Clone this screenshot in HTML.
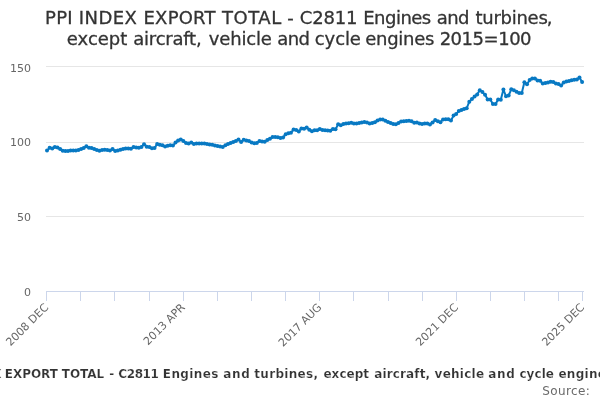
<!DOCTYPE html>
<html><head><meta charset="utf-8"><title>PPI INDEX EXPORT TOTAL</title>
<style>
html,body{margin:0;padding:0;background:#fff;}
body{width:600px;height:400px;overflow:hidden;}
svg{display:block;font-family:"DejaVu Sans","Liberation Sans",sans-serif;}
</style></head><body>
<div id="wrap" style="will-change:transform;width:600px;height:400px;background:#fff"><svg width="600" height="400" viewBox="0 0 600 400">
<rect x="0" y="0" width="600" height="400" fill="#ffffff"/>
<g stroke="#e6e6e6" stroke-width="1" fill="none"><path d="M 46 66.5 L 584 66.5"/><path d="M 46 142.5 L 584 142.5"/><path d="M 46 216.5 L 584 216.5"/><path d="M 46 291.5 L 584 291.5"/></g>
<g stroke="#ccd6eb" stroke-width="1" fill="none"><path d="M 46.5 291 L 46.5 301"/><path d="M 80.5 291 L 80.5 301"/><path d="M 114.5 291 L 114.5 301"/><path d="M 149.5 291 L 149.5 301"/><path d="M 183.5 291 L 183.5 301"/><path d="M 217.5 291 L 217.5 301"/><path d="M 251.5 291 L 251.5 301"/><path d="M 285.5 291 L 285.5 301"/><path d="M 319.5 291 L 319.5 301"/><path d="M 353.5 291 L 353.5 301"/><path d="M 388.5 291 L 388.5 301"/><path d="M 422.5 291 L 422.5 301"/><path d="M 456.5 291 L 456.5 301"/><path d="M 490.5 291 L 490.5 301"/><path d="M 524.5 291 L 524.5 301"/><path d="M 558.5 291 L 558.5 301"/><path d="M 582.5 291 L 582.5 301"/><path d="M 46 291.5 L 584 291.5"/></g>
<g fill="none" stroke="#0879c3" stroke-width="2" stroke-linejoin="round" stroke-linecap="round"><path d="M 47.00 150.60 L 49.62 147.85 L 52.25 148.40 L 54.87 146.90 L 57.49 147.60 L 60.12 149.10 L 62.74 150.85 L 65.36 151.00 L 67.98 151.00 L 70.61 150.40 L 73.23 150.60 L 75.85 150.50 L 78.48 149.90 L 81.10 149.10 L 83.72 148.00 L 86.35 146.35 L 88.97 147.85 L 91.59 148.00 L 94.21 149.10 L 96.84 150.10 L 99.46 150.85 L 102.08 149.90 L 104.71 149.65 L 107.33 150.10 L 109.95 150.40 L 112.58 149.10 L 115.20 151.10 L 117.82 150.40 L 120.45 149.65 L 123.07 149.10 L 125.69 148.60 L 128.31 148.40 L 130.94 148.75 L 133.56 147.10 L 136.18 147.40 L 138.81 147.85 L 141.43 147.10 L 144.05 144.25 L 146.68 146.65 L 149.30 147.10 L 151.92 148.15 L 154.54 148.00 L 157.17 144.10 L 159.79 144.85 L 162.41 145.25 L 165.04 146.40 L 167.66 145.85 L 170.28 145.25 L 172.91 145.60 L 175.53 142.60 L 178.15 140.60 L 180.78 139.40 L 183.40 141.10 L 186.02 143.00 L 188.64 143.60 L 191.27 142.40 L 193.89 143.90 L 196.51 143.40 L 199.14 143.40 L 201.76 143.40 L 204.38 143.60 L 207.01 143.90 L 209.63 144.50 L 212.25 144.65 L 214.87 145.40 L 217.50 146.00 L 220.12 146.40 L 222.74 147.10 L 225.37 145.25 L 227.99 144.10 L 230.61 143.00 L 233.24 142.10 L 235.86 141.10 L 238.48 139.60 L 241.10 142.10 L 243.73 139.85 L 246.35 140.40 L 248.97 141.10 L 251.60 142.50 L 254.22 143.25 L 256.84 142.90 L 259.47 141.00 L 262.09 141.40 L 264.71 141.75 L 267.34 139.90 L 269.96 138.75 L 272.58 137.10 L 275.20 137.10 L 277.83 137.25 L 280.45 138.00 L 283.07 137.40 L 285.70 134.25 L 288.32 133.35 L 290.94 132.75 L 293.57 129.40 L 296.19 129.90 L 298.81 131.40 L 301.43 128.40 L 304.06 128.75 L 306.68 127.60 L 309.30 129.65 L 311.93 131.15 L 314.55 130.25 L 317.17 130.25 L 319.80 129.10 L 322.42 129.90 L 325.04 130.25 L 327.67 130.60 L 330.29 130.85 L 332.91 129.10 L 335.53 129.35 L 338.16 124.25 L 340.78 125.25 L 343.40 124.10 L 346.03 123.60 L 348.65 123.15 L 351.27 122.85 L 353.90 123.40 L 356.52 123.60 L 359.14 123.00 L 361.76 122.40 L 364.39 121.90 L 367.01 122.60 L 369.63 123.40 L 372.26 123.00 L 374.88 122.25 L 377.50 120.40 L 380.13 119.60 L 382.75 119.60 L 385.37 120.75 L 388.00 121.90 L 390.62 123.00 L 393.24 123.90 L 395.86 124.35 L 398.49 123.00 L 401.11 121.50 L 403.73 121.35 L 406.36 120.90 L 408.98 120.75 L 411.60 121.35 L 414.23 122.85 L 416.85 122.40 L 419.47 123.40 L 422.09 124.10 L 424.72 123.60 L 427.34 123.60 L 429.96 124.40 L 432.59 122.40 L 435.21 120.10 L 437.83 121.25 L 440.46 122.15 L 443.08 119.40 L 445.70 119.15 L 448.32 119.15 L 450.95 120.50 L 453.57 115.60 L 456.19 113.90 L 458.82 111.10 L 461.44 110.00 L 464.06 109.00 L 466.69 108.25 L 469.31 101.65 L 471.93 99.10 L 474.56 96.60 L 477.18 94.40 L 479.80 90.25 L 482.42 92.10 L 485.05 94.75 L 487.67 99.60 L 490.29 99.60 L 492.92 104.10 L 495.54 104.10 L 498.16 99.60 L 500.79 99.85 L 503.41 89.60 L 506.03 96.25 L 508.65 95.50 L 511.28 89.35 L 513.90 90.25 L 516.52 91.75 L 519.15 93.10 L 521.77 92.90 L 524.39 82.15 L 527.02 84.25 L 529.64 80.10 L 532.26 78.60 L 534.89 78.40 L 537.51 80.50 L 540.13 80.85 L 542.75 83.40 L 545.38 83.00 L 548.00 82.40 L 550.62 81.65 L 553.25 81.90 L 555.87 83.40 L 558.49 84.10 L 561.12 85.40 L 563.74 82.60 L 566.36 81.50 L 568.98 80.90 L 571.61 80.15 L 574.23 79.80 L 576.85 79.60 L 579.48 77.60 L 582.10 82.10"/></g>
<g fill="#0879c3" stroke="none"><circle cx="47.00" cy="150.60" r="2"/><circle cx="49.62" cy="147.85" r="2"/><circle cx="52.25" cy="148.40" r="2"/><circle cx="54.87" cy="146.90" r="2"/><circle cx="57.49" cy="147.60" r="2"/><circle cx="60.12" cy="149.10" r="2"/><circle cx="62.74" cy="150.85" r="2"/><circle cx="65.36" cy="151.00" r="2"/><circle cx="67.98" cy="151.00" r="2"/><circle cx="70.61" cy="150.40" r="2"/><circle cx="73.23" cy="150.60" r="2"/><circle cx="75.85" cy="150.50" r="2"/><circle cx="78.48" cy="149.90" r="2"/><circle cx="81.10" cy="149.10" r="2"/><circle cx="83.72" cy="148.00" r="2"/><circle cx="86.35" cy="146.35" r="2"/><circle cx="88.97" cy="147.85" r="2"/><circle cx="91.59" cy="148.00" r="2"/><circle cx="94.21" cy="149.10" r="2"/><circle cx="96.84" cy="150.10" r="2"/><circle cx="99.46" cy="150.85" r="2"/><circle cx="102.08" cy="149.90" r="2"/><circle cx="104.71" cy="149.65" r="2"/><circle cx="107.33" cy="150.10" r="2"/><circle cx="109.95" cy="150.40" r="2"/><circle cx="112.58" cy="149.10" r="2"/><circle cx="115.20" cy="151.10" r="2"/><circle cx="117.82" cy="150.40" r="2"/><circle cx="120.45" cy="149.65" r="2"/><circle cx="123.07" cy="149.10" r="2"/><circle cx="125.69" cy="148.60" r="2"/><circle cx="128.31" cy="148.40" r="2"/><circle cx="130.94" cy="148.75" r="2"/><circle cx="133.56" cy="147.10" r="2"/><circle cx="136.18" cy="147.40" r="2"/><circle cx="138.81" cy="147.85" r="2"/><circle cx="141.43" cy="147.10" r="2"/><circle cx="144.05" cy="144.25" r="2"/><circle cx="146.68" cy="146.65" r="2"/><circle cx="149.30" cy="147.10" r="2"/><circle cx="151.92" cy="148.15" r="2"/><circle cx="154.54" cy="148.00" r="2"/><circle cx="157.17" cy="144.10" r="2"/><circle cx="159.79" cy="144.85" r="2"/><circle cx="162.41" cy="145.25" r="2"/><circle cx="165.04" cy="146.40" r="2"/><circle cx="167.66" cy="145.85" r="2"/><circle cx="170.28" cy="145.25" r="2"/><circle cx="172.91" cy="145.60" r="2"/><circle cx="175.53" cy="142.60" r="2"/><circle cx="178.15" cy="140.60" r="2"/><circle cx="180.78" cy="139.40" r="2"/><circle cx="183.40" cy="141.10" r="2"/><circle cx="186.02" cy="143.00" r="2"/><circle cx="188.64" cy="143.60" r="2"/><circle cx="191.27" cy="142.40" r="2"/><circle cx="193.89" cy="143.90" r="2"/><circle cx="196.51" cy="143.40" r="2"/><circle cx="199.14" cy="143.40" r="2"/><circle cx="201.76" cy="143.40" r="2"/><circle cx="204.38" cy="143.60" r="2"/><circle cx="207.01" cy="143.90" r="2"/><circle cx="209.63" cy="144.50" r="2"/><circle cx="212.25" cy="144.65" r="2"/><circle cx="214.87" cy="145.40" r="2"/><circle cx="217.50" cy="146.00" r="2"/><circle cx="220.12" cy="146.40" r="2"/><circle cx="222.74" cy="147.10" r="2"/><circle cx="225.37" cy="145.25" r="2"/><circle cx="227.99" cy="144.10" r="2"/><circle cx="230.61" cy="143.00" r="2"/><circle cx="233.24" cy="142.10" r="2"/><circle cx="235.86" cy="141.10" r="2"/><circle cx="238.48" cy="139.60" r="2"/><circle cx="241.10" cy="142.10" r="2"/><circle cx="243.73" cy="139.85" r="2"/><circle cx="246.35" cy="140.40" r="2"/><circle cx="248.97" cy="141.10" r="2"/><circle cx="251.60" cy="142.50" r="2"/><circle cx="254.22" cy="143.25" r="2"/><circle cx="256.84" cy="142.90" r="2"/><circle cx="259.47" cy="141.00" r="2"/><circle cx="262.09" cy="141.40" r="2"/><circle cx="264.71" cy="141.75" r="2"/><circle cx="267.34" cy="139.90" r="2"/><circle cx="269.96" cy="138.75" r="2"/><circle cx="272.58" cy="137.10" r="2"/><circle cx="275.20" cy="137.10" r="2"/><circle cx="277.83" cy="137.25" r="2"/><circle cx="280.45" cy="138.00" r="2"/><circle cx="283.07" cy="137.40" r="2"/><circle cx="285.70" cy="134.25" r="2"/><circle cx="288.32" cy="133.35" r="2"/><circle cx="290.94" cy="132.75" r="2"/><circle cx="293.57" cy="129.40" r="2"/><circle cx="296.19" cy="129.90" r="2"/><circle cx="298.81" cy="131.40" r="2"/><circle cx="301.43" cy="128.40" r="2"/><circle cx="304.06" cy="128.75" r="2"/><circle cx="306.68" cy="127.60" r="2"/><circle cx="309.30" cy="129.65" r="2"/><circle cx="311.93" cy="131.15" r="2"/><circle cx="314.55" cy="130.25" r="2"/><circle cx="317.17" cy="130.25" r="2"/><circle cx="319.80" cy="129.10" r="2"/><circle cx="322.42" cy="129.90" r="2"/><circle cx="325.04" cy="130.25" r="2"/><circle cx="327.67" cy="130.60" r="2"/><circle cx="330.29" cy="130.85" r="2"/><circle cx="332.91" cy="129.10" r="2"/><circle cx="335.53" cy="129.35" r="2"/><circle cx="338.16" cy="124.25" r="2"/><circle cx="340.78" cy="125.25" r="2"/><circle cx="343.40" cy="124.10" r="2"/><circle cx="346.03" cy="123.60" r="2"/><circle cx="348.65" cy="123.15" r="2"/><circle cx="351.27" cy="122.85" r="2"/><circle cx="353.90" cy="123.40" r="2"/><circle cx="356.52" cy="123.60" r="2"/><circle cx="359.14" cy="123.00" r="2"/><circle cx="361.76" cy="122.40" r="2"/><circle cx="364.39" cy="121.90" r="2"/><circle cx="367.01" cy="122.60" r="2"/><circle cx="369.63" cy="123.40" r="2"/><circle cx="372.26" cy="123.00" r="2"/><circle cx="374.88" cy="122.25" r="2"/><circle cx="377.50" cy="120.40" r="2"/><circle cx="380.13" cy="119.60" r="2"/><circle cx="382.75" cy="119.60" r="2"/><circle cx="385.37" cy="120.75" r="2"/><circle cx="388.00" cy="121.90" r="2"/><circle cx="390.62" cy="123.00" r="2"/><circle cx="393.24" cy="123.90" r="2"/><circle cx="395.86" cy="124.35" r="2"/><circle cx="398.49" cy="123.00" r="2"/><circle cx="401.11" cy="121.50" r="2"/><circle cx="403.73" cy="121.35" r="2"/><circle cx="406.36" cy="120.90" r="2"/><circle cx="408.98" cy="120.75" r="2"/><circle cx="411.60" cy="121.35" r="2"/><circle cx="414.23" cy="122.85" r="2"/><circle cx="416.85" cy="122.40" r="2"/><circle cx="419.47" cy="123.40" r="2"/><circle cx="422.09" cy="124.10" r="2"/><circle cx="424.72" cy="123.60" r="2"/><circle cx="427.34" cy="123.60" r="2"/><circle cx="429.96" cy="124.40" r="2"/><circle cx="432.59" cy="122.40" r="2"/><circle cx="435.21" cy="120.10" r="2"/><circle cx="437.83" cy="121.25" r="2"/><circle cx="440.46" cy="122.15" r="2"/><circle cx="443.08" cy="119.40" r="2"/><circle cx="445.70" cy="119.15" r="2"/><circle cx="448.32" cy="119.15" r="2"/><circle cx="450.95" cy="120.50" r="2"/><circle cx="453.57" cy="115.60" r="2"/><circle cx="456.19" cy="113.90" r="2"/><circle cx="458.82" cy="111.10" r="2"/><circle cx="461.44" cy="110.00" r="2"/><circle cx="464.06" cy="109.00" r="2"/><circle cx="466.69" cy="108.25" r="2"/><circle cx="469.31" cy="101.65" r="2"/><circle cx="471.93" cy="99.10" r="2"/><circle cx="474.56" cy="96.60" r="2"/><circle cx="477.18" cy="94.40" r="2"/><circle cx="479.80" cy="90.25" r="2"/><circle cx="482.42" cy="92.10" r="2"/><circle cx="485.05" cy="94.75" r="2"/><circle cx="487.67" cy="99.60" r="2"/><circle cx="490.29" cy="99.60" r="2"/><circle cx="492.92" cy="104.10" r="2"/><circle cx="495.54" cy="104.10" r="2"/><circle cx="498.16" cy="99.60" r="2"/><circle cx="500.79" cy="99.85" r="2"/><circle cx="503.41" cy="89.60" r="2"/><circle cx="506.03" cy="96.25" r="2"/><circle cx="508.65" cy="95.50" r="2"/><circle cx="511.28" cy="89.35" r="2"/><circle cx="513.90" cy="90.25" r="2"/><circle cx="516.52" cy="91.75" r="2"/><circle cx="519.15" cy="93.10" r="2"/><circle cx="521.77" cy="92.90" r="2"/><circle cx="524.39" cy="82.15" r="2"/><circle cx="527.02" cy="84.25" r="2"/><circle cx="529.64" cy="80.10" r="2"/><circle cx="532.26" cy="78.60" r="2"/><circle cx="534.89" cy="78.40" r="2"/><circle cx="537.51" cy="80.50" r="2"/><circle cx="540.13" cy="80.85" r="2"/><circle cx="542.75" cy="83.40" r="2"/><circle cx="545.38" cy="83.00" r="2"/><circle cx="548.00" cy="82.40" r="2"/><circle cx="550.62" cy="81.65" r="2"/><circle cx="553.25" cy="81.90" r="2"/><circle cx="555.87" cy="83.40" r="2"/><circle cx="558.49" cy="84.10" r="2"/><circle cx="561.12" cy="85.40" r="2"/><circle cx="563.74" cy="82.60" r="2"/><circle cx="566.36" cy="81.50" r="2"/><circle cx="568.98" cy="80.90" r="2"/><circle cx="571.61" cy="80.15" r="2"/><circle cx="574.23" cy="79.80" r="2"/><circle cx="576.85" cy="79.60" r="2"/><circle cx="579.48" cy="77.60" r="2"/><circle cx="582.10" cy="82.10" r="2"/></g>
<text font-size="18px" fill="#333333" stroke="#333333" stroke-width="0.3"><tspan x="45.04" y="24" letter-spacing="0.284px">PPI </tspan><tspan x="78.74" y="24" letter-spacing="0.436px">INDEX </tspan><tspan x="143.54" y="24" letter-spacing="0.215px">EXPORT </tspan><tspan x="221.88" y="24" letter-spacing="0.558px">TOTAL </tspan><tspan x="287.25" y="24" letter-spacing="0px">- </tspan><tspan x="299.85" y="24" letter-spacing="-0.165px">C2811 </tspan><tspan x="363.24" y="24" letter-spacing="-0.511px">Engines </tspan><tspan x="436.78" y="24" letter-spacing="-0.589px">and </tspan><tspan x="475.49" y="24" letter-spacing="-0.261px">turbines </tspan><tspan x="546.74" y="24" letter-spacing="0px">, </tspan><tspan x="66.84" y="45" letter-spacing="-0.02px">except </tspan><tspan x="133.28" y="45" letter-spacing="-0.22px">aircraft </tspan><tspan x="195.94" y="45" letter-spacing="0px">, </tspan><tspan x="208.79" y="45" letter-spacing="-0.173px">vehicle </tspan><tspan x="277.28" y="45" letter-spacing="-0.589px">and </tspan><tspan x="314.85" y="45" letter-spacing="-0.127px">cycle </tspan><tspan x="365.34" y="45" letter-spacing="-0.292px">engines </tspan><tspan x="439.64" y="45" letter-spacing="-0.472px">2015=100 </tspan></text>
<g font-size="11px" fill="#666666"><text x="49.10" y="308" text-anchor="end" transform="rotate(-45 49.10 308)">2008 DEC</text><text x="185.70" y="308" text-anchor="end" transform="rotate(-45 185.70 308)">2013 APR</text><text x="322.30" y="308" text-anchor="end" transform="rotate(-45 322.30 308)">2017 AUG</text><text x="458.90" y="308" text-anchor="end" transform="rotate(-45 458.90 308)">2021 DEC</text><text x="584.99" y="308" text-anchor="end" transform="rotate(-45 584.99 308)">2025 DEC</text></g>
<g font-size="11px" fill="#666666"><text x="31" y="72" text-anchor="end">150</text><text x="31" y="146" text-anchor="end">100</text><text x="31" y="221" text-anchor="end">50</text><text x="31" y="296" text-anchor="end">0</text></g>
<text font-size="12px" font-weight="bold" fill="#333333" stroke="#ffffff" stroke-width="0.2"><tspan x="-73" y="378">PPI </tspan><tspan x="-40.5" y="378">INDEX </tspan><tspan x="4.79" y="378" letter-spacing="-0.048px">EXPORT </tspan><tspan x="61.82" y="378" letter-spacing="-0.057px">TOTAL </tspan><tspan x="109.34" y="378" letter-spacing="0px">- </tspan><tspan x="118.37" y="378" letter-spacing="-0.438px">C2811 </tspan><tspan x="162.79" y="378" letter-spacing="0.405px">Engines </tspan><tspan x="223.34" y="378" letter-spacing="0.618px">and </tspan><tspan x="254.25" y="378" letter-spacing="0.315px">turbines, </tspan><tspan x="323.42" y="378" letter-spacing="0.049px">except </tspan><tspan x="374.34" y="378" letter-spacing="0.127px">aircraft, </tspan><tspan x="434.58" y="378" letter-spacing="0.254px">vehicle </tspan><tspan x="488.34" y="378" letter-spacing="0.618px">and </tspan><tspan x="519.42" y="378" letter-spacing="0.066px">cycle </tspan><tspan x="558.42" y="378" letter-spacing="0.3px">engines 2015=100</tspan></text>
<text x="542.25" y="395" font-size="12px" letter-spacing="0.375px" fill="#6a6a6a">Source:</text>
</svg></div>
</body></html>
